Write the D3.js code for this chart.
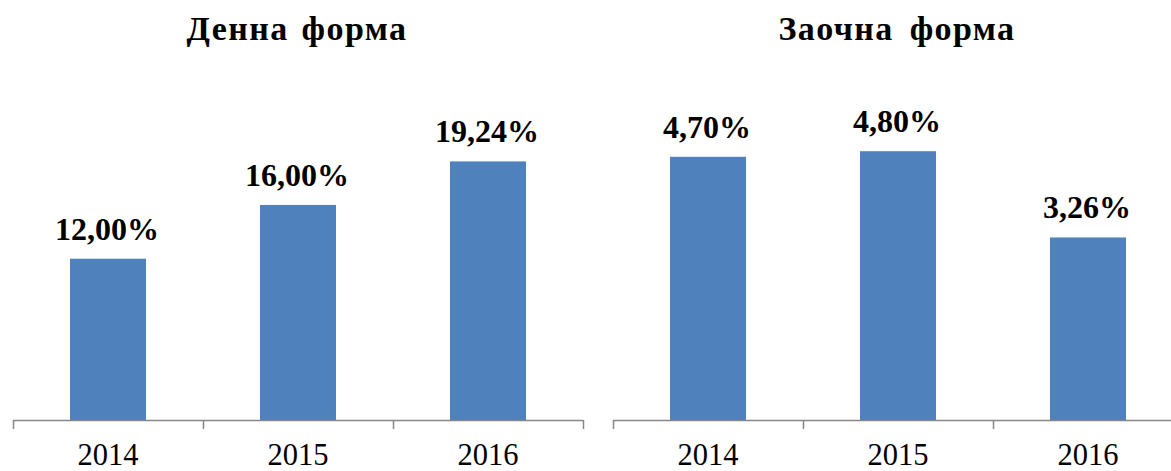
<!DOCTYPE html>
<html>
<head>
<meta charset="utf-8">
<script src="https://cdn.jsdelivr.net/npm/d3@7"></script>
<style>
  body { margin: 0; background: #fff; }
  svg { display: block; }
  text { font-family: 'Liberation Serif', 'Times New Roman', serif; }
</style>
</head>
<body>
<div id="chart"></div>
<script>
  // data
  var years = ['2014', '2015', '2016']
  var titles = ['Денна форма', 'Заочна форма']
  var dayValues = [12.00, 16.00, 19.24]
  var distanceValues = [4.70, 4.80, 3.26]
  var maxValues = [25, 6]

  var width = 1171
  var height = 471
  var barColor = '#4F81BD'
  var axisColor = '#878787'

  var svg = d3.select('#chart').append('svg')
    .attr('width', width)
    .attr('height', height)

  var panels = [
    { title: titles[0], values: dayValues, max: maxValues[0], x0: 13, x1: 583, ws: 3 },
    { title: titles[1], values: distanceValues, max: maxValues[1], x0: 613, x1: 1183, ws: 6 }
  ]

  var fmt = function (v) { return d3.format('.2f')(v).replace('.', ',') + '%' }

  panels.forEach(function (p) {
    var g = svg.append('g')

    var xScale = d3.scaleBand()
      .domain(years)
      .range([p.x0, p.x1])
      .paddingInner(0.6)
      .paddingOuter(0.3)

    var yScale = d3.scaleLinear()
      .domain([0, p.max])
      .range([420, 84])

    g.append('text')
      .attr('x', (p.x0 + p.x1) / 2 - 1)
      .attr('y', 40)
      .attr('text-anchor', 'middle')
      .attr('font-size', 34)
      .attr('font-weight', 'bold')
      .attr('letter-spacing', 1.4)
      .attr('word-spacing', p.ws)
      .attr('fill', '#000')
      .text(p.title)

    g.selectAll('rect')
      .data(p.values)
      .enter()
      .append('rect')
        .attr('x', function (d, i) { return xScale(years[i]) })
        .attr('y', function (d) { return yScale(d) })
        .attr('width', xScale.bandwidth())
        .attr('height', function (d) { return yScale(0) - yScale(d) })
        .attr('fill', barColor)

    g.selectAll('text.label')
      .data(p.values)
      .enter()
      .append('text')
        .classed('label', true)
        .attr('x', function (d, i) { return xScale(years[i]) + xScale.bandwidth() / 2 - 1 })
        .attr('y', function (d) { return yScale(d) - 19 })
        .attr('text-anchor', 'middle')
        .attr('font-size', 32)
        .attr('font-weight', 'bold')
        .attr('fill', '#000')
        .text(fmt)

    // category axis with ticks between categories
    var edges = d3.scaleLinear().domain([0, years.length]).range([p.x0, p.x1])
    var axis = g.append('g')
    axis.append('line')
      .attr('x1', p.x0).attr('x2', p.x1)
      .attr('y1', 420.5).attr('y2', 420.5)
      .attr('stroke', axisColor).attr('stroke-width', 1.5)
    axis.selectAll('line.tick')
      .data(d3.range(years.length + 1))
      .enter()
      .append('line')
        .classed('tick', true)
        .attr('x1', function (d) { return Math.round(edges(d)) + 0.5 })
        .attr('x2', function (d) { return Math.round(edges(d)) + 0.5 })
        .attr('y1', 420).attr('y2', 429)
        .attr('stroke', axisColor).attr('stroke-width', 1.5)

    axis.selectAll('text')
      .data(years)
      .enter()
      .append('text')
        .attr('x', function (d) { return xScale(d) + xScale.bandwidth() / 2 })
        .attr('y', 464.5)
        .attr('text-anchor', 'middle')
        .attr('font-size', 30.5)
        .attr('fill', '#000')
        .text(function (d) { return d })
  })
</script>
</body>
</html>
